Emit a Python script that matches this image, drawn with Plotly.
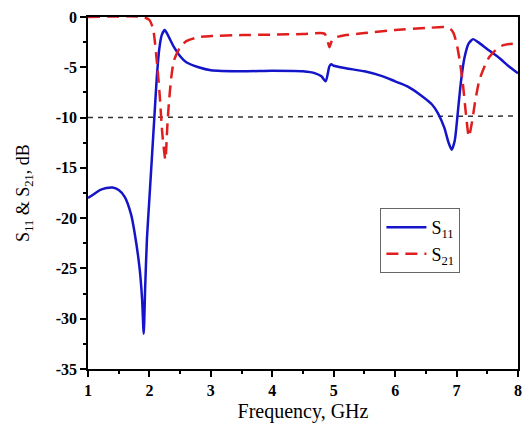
import plotly.graph_objects as go

s11_x = [1.0, 1.1, 1.2, 1.3, 1.4, 1.5, 1.6, 1.7, 1.76, 1.84, 1.88, 1.907, 1.93, 1.96, 2.0, 2.04, 2.08, 2.12, 2.16, 2.2, 2.25,
         2.3, 2.4, 2.5, 2.6, 2.8, 3.0, 3.5, 4.0, 4.5, 4.7, 4.8, 4.87, 4.93, 4.96, 5.0, 5.2, 5.5, 5.8, 6.0, 6.2, 6.4, 6.6,
         6.7, 6.8, 6.87, 6.92, 6.97, 7.02, 7.07, 7.13, 7.2, 7.27, 7.35, 7.5, 7.7, 7.85, 8.0]
s11_y = [-18.0, -17.6, -17.2, -17.0, -16.95, -17.2, -17.9, -19.6, -21.5, -25.0, -28.0, -31.5, -27.0, -22.0, -18.0, -14.0, -10.0, -6.0, -3.2, -1.8, -1.3,
         -1.8, -3.0, -3.9, -4.5, -5.0, -5.3, -5.4, -5.35, -5.4, -5.6, -5.9, -6.4, -4.9, -4.7, -4.85, -5.1, -5.4, -5.9, -6.4, -6.9, -7.7, -8.7,
         -9.6, -11.0, -12.5, -13.2, -12.3, -9.5, -6.5, -4.0, -2.6, -2.2, -2.5, -3.2, -4.1, -4.9, -5.6]

s21_x = [1.0, 1.9, 2.0, 2.06, 2.13, 2.17, 2.21, 2.26, 2.29, 2.32, 2.36, 2.4, 2.5, 2.6, 2.8, 3.0, 3.5, 4.0, 4.5, 4.85, 4.9, 4.93, 4.96,
         5.0, 5.2, 5.5, 6.0, 6.5, 6.8, 6.9, 6.95, 7.0, 7.05, 7.1, 7.15, 7.2, 7.25, 7.3, 7.37, 7.45, 7.53, 7.65, 7.76, 8.0]
s21_y = [0.0, 0.0, -0.3, -1.2, -5.0, -8.0, -11.6, -14.2, -11.0, -8.3, -5.8, -4.3, -3.0, -2.4, -2.0, -1.9, -1.8, -1.75, -1.7, -1.65, -2.4, -3.0, -2.5,
         -2.1, -1.8, -1.6, -1.3, -1.1, -1.0, -1.2, -1.6, -2.6, -4.3, -6.5, -9.5, -11.9, -10.5, -8.5, -6.3, -5.0, -4.0, -3.2, -2.8, -2.6]

ref_x = [1.0, 8.0]
ref_y = [-10.0, -9.85]

x_ticks = [1, 2, 3, 4, 5, 6, 7, 8]
y_ticks = [0, -5, -10, -15, -20, -25, -30, -35]

fig = go.Figure()
fig.add_trace(go.Scatter(x=ref_x, y=ref_y, mode="lines", showlegend=False,
                         line=dict(color="#333333", width=1.5, dash="5px,5px")))
fig.add_trace(go.Scatter(x=s11_x, y=s11_y, mode="lines", name="S<sub>11</sub>",
                         line=dict(color="#1414c8", width=2.5, shape="spline", smoothing=0.6)))
fig.add_trace(go.Scatter(x=s21_x, y=s21_y, mode="lines", name="S<sub>21</sub>",
                         line=dict(color="#e01e1e", width=2.5, dash="12px,7px", shape="spline", smoothing=0.6)))

tick_font = dict(family="Liberation Serif, serif", size=16, color="black")

fig.update_layout(
    width=525, height=429,
    margin=dict(l=88, r=3, t=17, b=60),
    paper_bgcolor="white", plot_bgcolor="white",
    font=dict(family="Liberation Serif, serif", size=16, color="black"),
    xaxis=dict(range=[1, 8], tickmode="array", tickvals=x_ticks, ticktext=[f"<b>{v}</b>" for v in x_ticks],
               tickfont=tick_font,
               showgrid=False, zeroline=False, showline=True, linecolor="black", linewidth=1.5,
               mirror=True, ticks="outside", ticklen=6, tickwidth=1.5, tickcolor="black",
               minor=dict(dtick=0.5, ticks="outside", ticklen=3, tickwidth=1.5, tickcolor="black"),
               title=dict(text="Frequency, GHz", font=dict(family="Liberation Serif, serif", size=20, color="black"), standoff=6)),
    yaxis=dict(range=[-35, 0], tickmode="array", tickvals=y_ticks, ticktext=[f"<b>{v}</b>" for v in y_ticks],
               tickfont=tick_font,
               showgrid=False, zeroline=False, showline=True, linecolor="black", linewidth=1.5,
               mirror=True, ticks="outside", ticklen=6, tickwidth=1.5, tickcolor="black",
               minor=dict(dtick=2.5, ticks="outside", ticklen=3, tickwidth=1.5, tickcolor="black"),
               title=dict(text="S<sub>11</sub> & S<sub>21</sub>, dB", font=dict(family="Liberation Serif, serif", size=18, color="black"), standoff=21)),
    legend=dict(x=0.68, y=0.457, xanchor="left", yanchor="top",
                bordercolor="#666666", borderwidth=1, bgcolor="white",
                font=dict(family="Liberation Serif, serif", size=18, color="black"),
                tracegroupgap=0, itemwidth=40),
)

fig.write_html("out.html")
